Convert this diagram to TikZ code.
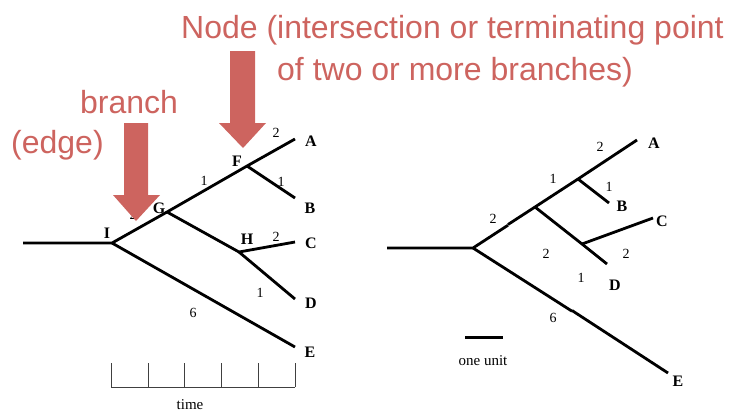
\documentclass[tikz,border=0pt]{standalone}
\usepackage{fontspec}
\setmainfont{Liberation Serif}
\newfontfamily\redfont{Liberation Sans}
\definecolor{annot}{RGB}{205,100,95}
\begin{document}
\begin{tikzpicture}[x=1pt,y=-1pt,
  branchline/.style={line width=2.8pt, line join=miter},
  axisline/.style={line width=0.8pt, draw=black!75},
  leaf/.style={font=\fontsize{16}{16}\selectfont\bfseries, inner sep=0},
  blen/.style={font=\fontsize{14}{14}\selectfont, inner sep=0},
  plain/.style={font=\fontsize{15}{15}\selectfont, inner sep=0},
  callout/.style={font=\redfont\fontsize{32}{32}\selectfont, text=annot, inner sep=0, anchor=base west},
  bigarrow/.style={fill=annot, draw=none}]
\useasboundingbox (0,0) rectangle (730,416);

% ---------------- left tree ----------------
\coordinate (lroot) at (23,243);
\coordinate (I) at (112,243);
\coordinate (G) at (167,212);
\coordinate (F) at (247,166);
\coordinate (H) at (239,252);
\coordinate (lA) at (295,139);
\coordinate (lB) at (295,198);
\coordinate (lC) at (295,242);
\coordinate (lD) at (295,299);
\coordinate (lE) at (295,347);

\draw[branchline] (lroot) -- (I) -- (G) -- (F) -- (lA);
\draw[branchline] (F) -- (lB);
\draw[branchline] (G) -- (H) -- (lC);
\draw[branchline] (H) -- (lD);
\draw[branchline] (I) -- (lE);

\node[leaf] (Ilab) at (107,233) {I};
\node[leaf] (Glab) at (159,208) {G};
\node[leaf] (Flab) at (237,161) {F};
\node[leaf] (Hlab) at (247,239) {H};
\node[leaf] (lAlab) at (311,141) {A};
\node[leaf] (lBlab) at (310,208) {B};
\node[leaf] (lClab) at (311,243) {C};
\node[leaf] (lDlab) at (311,303) {D};
\node[leaf] (lElab) at (310,352) {E};

\node[blen] (l1) at (276,133) {2};
\node[blen] (l2) at (204,181) {1};
\node[blen] (l3) at (281,182) {1};
\node[blen] (l4) at (133,215) {2};
\node[blen] (l5) at (276,237) {2};
\node[blen] (l6) at (260,293) {1};
\node[blen] (l7) at (193,313) {6};

% time axis
\foreach \i/\x in {0/111,1/148,2/184,3/221,4/258,5/295} {
  \coordinate (t\i) at (\x,387);
  \coordinate (tt\i) at (\x,363);
}
\draw[axisline] (t0) -- (t5);
\foreach \i in {0,...,5} { \draw[axisline] (t\i) -- (tt\i); }
\node[plain] (timelab) at (190,405) {time};

% ---------------- right tree ----------------
\coordinate (rroot) at (387,248);
\coordinate (R) at (473,248);
\coordinate (J) at (535,207);
\coordinate (K) at (578,179);
\coordinate (L) at (582,244);
\coordinate (rA) at (637,140);
\coordinate (rB) at (609,203);
\coordinate (rC) at (653,218);
\coordinate (rD) at (607,264);
\coordinate (rE) at (668,373);
\coordinate (nj1) at (508,225.2);
\coordinate (nj2) at (508,224.5);
\coordinate (ne1) at (572,311.2);
\coordinate (ne2) at (572,310.5);

\draw[branchline] (rroot) -- (R) -- (nj1);
\draw[branchline] (nj2) -- (J) -- (K) -- (rA);
\draw[branchline] (K) -- (rB);
\draw[branchline] (J) -- (L) -- (rD);
\draw[branchline] (L) -- (rC);
\draw[branchline] (R) -- (ne1);
\draw[branchline] (ne2) -- (rE);

\node[leaf] (rAlab) at (654,143) {A};
\node[leaf] (rBlab) at (622,206) {B};
\node[leaf] (rClab) at (662,221) {C};
\node[leaf] (rDlab) at (615,285) {D};
\node[leaf] (rElab) at (678,381) {E};

\node[blen] (r1) at (600,147) {2};
\node[blen] (r2) at (553,179) {1};
\node[blen] (r3) at (609,187) {1};
\node[blen] (r4) at (493,219) {2};
\node[blen] (r5) at (546,254) {2};
\node[blen] (r6) at (626,254) {2};
\node[blen] (r7) at (581,278) {1};
\node[blen] (r8) at (553,318) {6};

\coordinate (ub0) at (465,337);
\coordinate (ub1) at (503,337);
\draw[line width=3pt] (ub0) -- (ub1);
\node[plain] (unitlab) at (483,361) {one unit};

% ---------------- annotations ----------------
\fill[bigarrow] (124,123) -- (148,123) -- (148,195) -- (160,195) -- (136,221)
  -- (113,195) -- (124,195) -- cycle;
\fill[bigarrow] (230,51) -- (255,51) -- (255,123) -- (266,123) -- (243,148)
  -- (219,123) -- (230,123) -- cycle;

\node[callout] (node1) at (181,38) {Node (intersection or terminating point};
\node[callout] (node2) at (277,80) {of two or more branches)};
\node[callout] (br) at (80,113) {branch};
\node[callout] (edge) at (11,153) {(edge)};
\end{tikzpicture}
\end{document}
